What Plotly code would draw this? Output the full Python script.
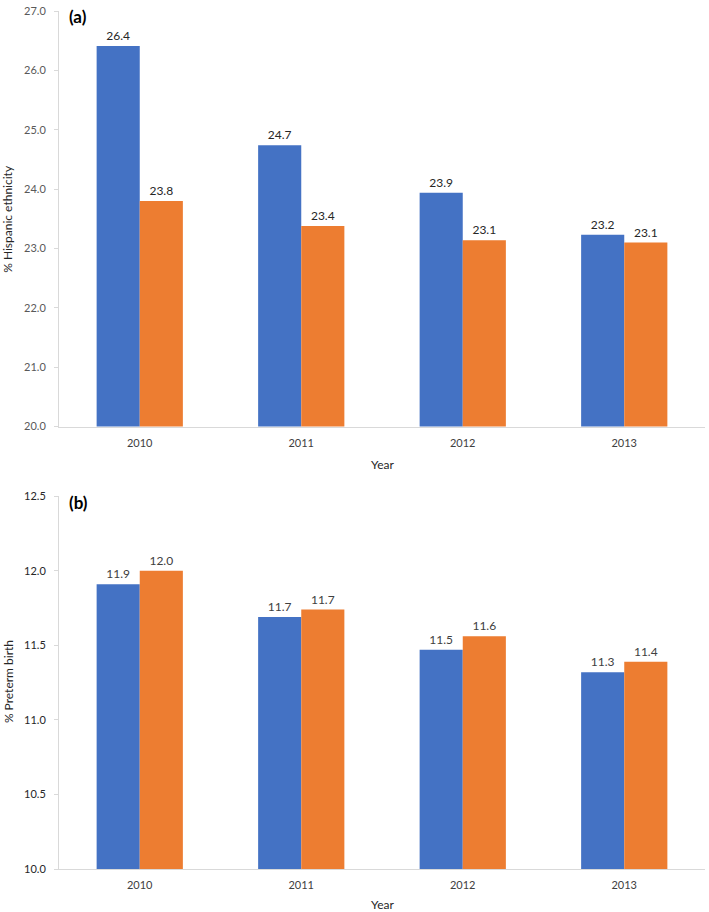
import plotly.graph_objects as go

years = ["2010", "2011", "2012", "2013"]
hisp_blue = [26.41, 24.74, 23.94, 23.23]
hisp_orange = [23.80, 23.38, 23.14, 23.10]
preterm_blue = [11.91, 11.69, 11.47, 11.32]
preterm_orange = [12.00, 11.74, 11.56, 11.39]

BLUE = "#4472C4"
ORANGE = "#ED7D31"
FONT = "Lato"
AXIS_GRAY = "#d9d9d9"

fig = go.Figure()

def add_bars(y_blue, y_orange, xa, ya, txtcolor):
    for vals, col in ((y_blue, BLUE), (y_orange, ORANGE)):
        fig.add_trace(go.Bar(
            x=years, y=vals, xaxis=xa, yaxis=ya,
            marker=dict(color=col, line=dict(width=0)),
            texttemplate="%{y:.1f}", textposition="outside",
            textfont=dict(family=FONT, size=12, color=txtcolor),
            cliponaxis=False, showlegend=False,
        ))

add_bars(hisp_blue, hisp_orange, "x", "y", "#262626")
add_bars(preterm_blue, preterm_orange, "x2", "y2", "#404040")

H_PLOT_TOP = 869
H = 863.0
def py(p):
    return (H_PLOT_TOP - p) / H

xcommon = dict(showline=True, linecolor=AXIS_GRAY, linewidth=1, ticks="",
               showgrid=False, zeroline=False,
               tickfont=dict(family=FONT, size=11, color="#404040"),
               ticklabelstandoff=6)
ycommon = dict(showline=True, linecolor=AXIS_GRAY, linewidth=1, ticks="outside",
               ticklen=4, tickcolor=AXIS_GRAY, showgrid=False, zeroline=False,
               tickformat=".1f", ticklabelstandoff=6)

fig.update_layout(
    width=709, height=912,
    margin=dict(l=59, r=4, t=6, b=43),
    paper_bgcolor="white", plot_bgcolor="white",
    barmode="group", bargap=0.466, bargroupgap=0,
    font=dict(family=FONT),
    xaxis=dict(domain=[0, 1], anchor="y", **xcommon),
    yaxis=dict(domain=[py(424), 1.0], anchor="x", range=[20, 27], dtick=1,
               tickfont=dict(family=FONT, size=11, color="#595959"), **ycommon),
    xaxis2=dict(domain=[0, 1], anchor="y2", **xcommon),
    yaxis2=dict(domain=[0, py(494)], anchor="x2", range=[10, 12.5], dtick=0.5,
                tickfont=dict(family=FONT, size=11, color="#262626"), **ycommon),
    annotations=[
        dict(text="<b>(a)</b>", x=0.012, y=py(12), xref="paper", yref="paper",
             xanchor="left", yanchor="middle", showarrow=False,
             font=dict(family=FONT, size=17, color="black")),
        dict(text="<b>(b)</b>", x=0.012, y=py(500), xref="paper", yref="paper",
             xanchor="left", yanchor="middle", showarrow=False,
             font=dict(family=FONT, size=17, color="black")),
        dict(text="Year", x=0.5, y=py(462), xref="paper", yref="paper",
             xanchor="center", yanchor="middle", showarrow=False,
             font=dict(family=FONT, size=12, color="#262626")),
        dict(text="Year", x=0.5, y=py(905), xref="paper", yref="paper",
             xanchor="center", yanchor="middle", showarrow=False,
             font=dict(family=FONT, size=12, color="#262626")),
        dict(text="% Hispanic ethnicity", x=(8 - 59) / 646, y=py(215),
             xref="paper", yref="paper", xanchor="center", yanchor="middle",
             textangle=-90, showarrow=False,
             font=dict(family=FONT, size=12, color="#262626")),
        dict(text="% Preterm birth", x=(8 - 59) / 646, y=py(681),
             xref="paper", yref="paper", xanchor="center", yanchor="middle",
             textangle=-90, showarrow=False,
             font=dict(family=FONT, size=12, color="#262626")),
    ],
)

fig.write_html("out.html",
               config={"displayModeBar": False},
               post_script="document.body.style.margin='0';document.body.style.overflow='hidden';")
